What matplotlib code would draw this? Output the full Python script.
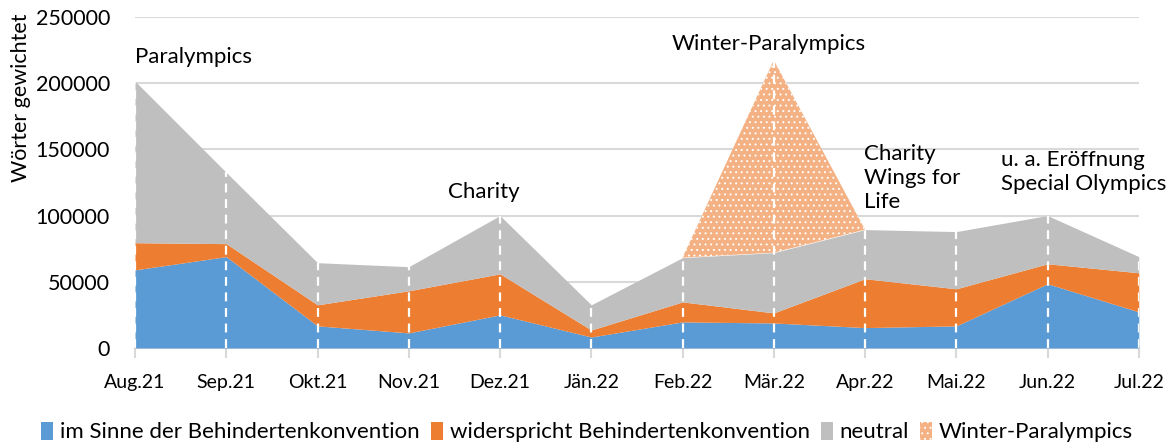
import matplotlib.pyplot as plt
import numpy as np
from matplotlib.patches import Patch

months = ["Aug.21", "Sep.21", "Okt.21", "Nov.21", "Dez.21", "Jän.22",
          "Feb.22", "Mär.22", "Apr.22", "Mai.22", "Jun.22", "Jul.22"]
im_sinne = [59000, 69000, 16700, 11400, 25000, 8300, 19700, 18900, 15400, 16700, 48500, 27300]
widerspricht = [20500, 9800, 15900, 31800, 31000, 5300, 15100, 7600, 36900, 28000, 15100, 29500]
neutral = [122000, 53800, 31800, 18200, 44000, 19000, 33400, 45500, 37100, 43200, 36400, 12200]
winter = [0, 0, 0, 0, 0, 0, 0, 145400, 0, 0, 0, 0]

plt.rcParams['font.family'] = ['Lato', 'DejaVu Sans']

fig = plt.figure(figsize=(11.74, 4.45), dpi=100)
ax = fig.add_axes([0.115, 0.218, 0.855, 0.744])

x = np.arange(len(months))
b1 = np.array(im_sinne)
b2 = b1 + np.array(widerspricht)
b3 = b2 + np.array(neutral)
b4 = b3 + np.array(winter)

ax.fill_between(x, 0, b1, color='#5B9BD5', lw=0, zorder=2)
ax.fill_between(x, b1, b2, color='#ED7D31', lw=0, zorder=2)
ax.fill_between(x, b2, b3, color='#BFBFBF', lw=0, zorder=2)
plt.rcParams['hatch.linewidth'] = 0.7
ax.fill_between(x, b3, b4, facecolor='#F4B183', edgecolor='white', hatch='...', lw=0, zorder=2)

# drop lines
ax.vlines(x, 0, b4, colors='white', linestyles=(0, (4, 3)), lw=1.6, zorder=3)

ax.set_xlim(0, len(months) - 1)
ax.set_ylim(0, 250000)
ax.set_yticks(np.arange(0, 250001, 50000))
ax.grid(axis='y', color='#D9D9D9', lw=1.5, zorder=0)
ax.set_axisbelow(True)
for s in ['top', 'right', 'left']:
    ax.spines[s].set_visible(False)
ax.spines['bottom'].set_color('#D9D9D9')
ax.spines['bottom'].set_linewidth(1.5)
ax.spines['bottom'].set_zorder(1)

ax.set_xticks(x)
ax.set_xticklabels(months)
ax.tick_params(axis='x', length=7, color='#D9D9D9', width=1.5, pad=12, labelsize=14)
ax.tick_params(axis='y', length=0, pad=18, labelsize=15.5)

fig.text(21 / 1174, 1 - 98 / 445, "Wörter gewichtet", rotation=90, ha='center', va='center', fontsize=15.5)

ax.text(0, 220000, "Paralympics", ha='left', va='center', fontsize=16)
ax.text(3.82, 118000, "Charity", ha='center', va='center', fontsize=16)
ax.text(6.95, 229500, "Winter-Paralympics", ha='center', va='center', fontsize=16)
ax.text(7.99, 103000, "Charity\nWings for\nLife", ha='left', va='bottom', fontsize=16, linespacing=1.25)
ax.text(9.49, 133000, "u. a. Eröffnung\nSpecial Olympics", ha='left', va='center', fontsize=16, linespacing=1.25)

handles = [Patch(facecolor='#5B9BD5'), Patch(facecolor='#ED7D31'), Patch(facecolor='#BFBFBF'),
           Patch(facecolor='#F4B183', edgecolor='white', hatch='...', lw=0)]
labels = ["im Sinne der Behindertenkonvention", "widerspricht Behindertenkonvention", "neutral", "Winter-Paralympics"]
fig.legend(handles, labels, loc='center', bbox_to_anchor=(0.5, 1 - 432 / 445), ncol=4, frameon=False,
           fontsize=16, handlelength=0.55, handleheight=0.9, handletextpad=0.3, columnspacing=0.5)

fig.savefig("out.png", dpi=100)
